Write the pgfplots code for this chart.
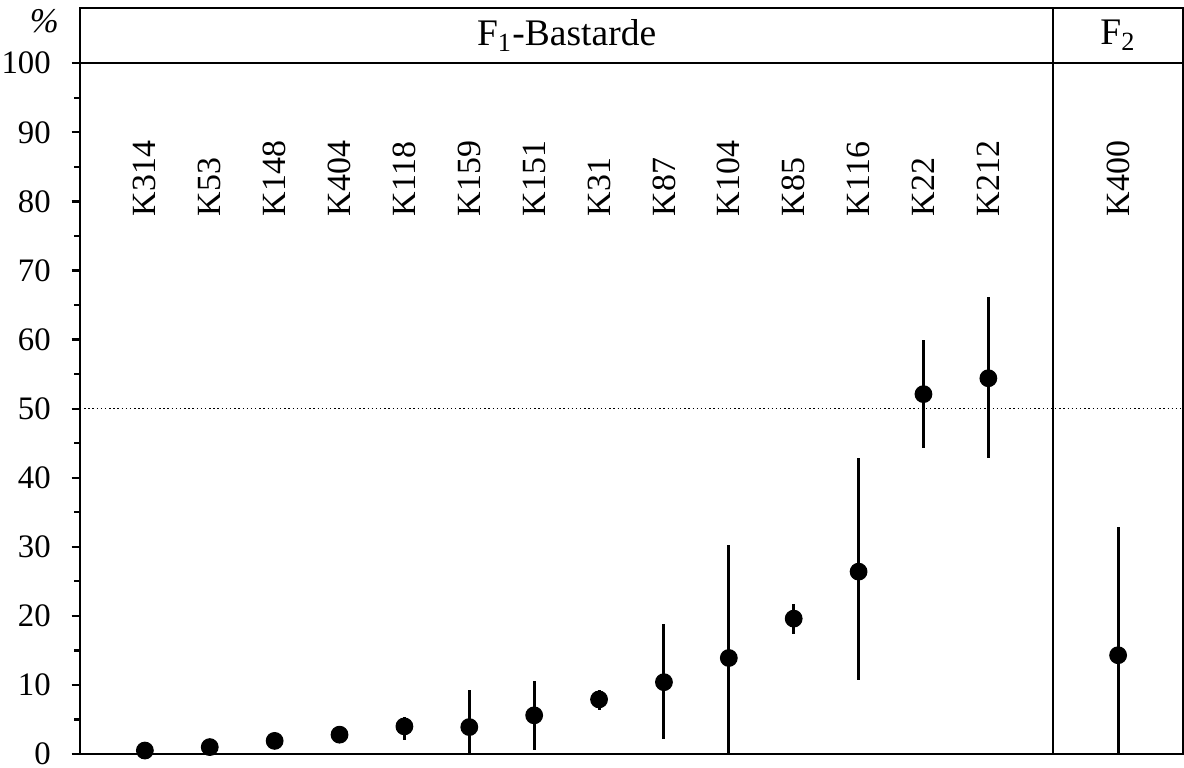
\documentclass[border=0pt]{standalone}
\usepackage{fontspec}
\setmainfont{Liberation Serif}
\usepackage{pgfplots}
\usepackage{pgfplotstable}
\pgfplotsset{compat=1.18}
\pgfplotstableread{
x y ep em
1 0.5 0 0
2 1.0 0 0
3 1.9 0 0
4 2.8 0.7 0.5
5 4.0 1.4 2.0
6 3.9 5.4 3.9
7 5.6 5.0 5.0
8 7.9 1.4 1.6
9 10.4 8.4 8.3
10 13.9 16.4 13.9
11 19.6 2.1 2.2
12 26.4 16.4 15.7
13 52.1 7.8 7.8
14 54.4 11.7 11.6
16 14.3 18.6 14.3
}\datatable
\tikzset{klab/.style={rotate=90, anchor=west, inner sep=0pt, font=\fontsize{12.2}{14}\selectfont}}
\begin{document}
\begin{tikzpicture}
\useasboundingbox (-28.8pt,-5pt) rectangle (397.44pt,271.44pt);
\begin{axis}[name=ax, at={(0,0)}, anchor=south west,
  scale only axis, width=397.08pt, height=268.56pt,
  xmin=0, xmax=17, ymin=0, ymax=108,
  xtick=\empty,
  ytick={0,10,...,100},
  minor ytick={5,15,...,95},
  ytick pos=left, tick align=outside,
  major tick length=3pt, minor tick length=2pt,
  tick style={line width=0.8pt, black},
  axis line style={line width=0.8pt},
  /pgf/number format/assume math mode=true,
  yticklabel style={xshift=-4pt, font=\fontsize{11.8}{14}\selectfont},
  clip=false,
]
\draw[line width=0.8pt] (axis cs:0,100) -- (axis cs:17,100);
\draw[line width=0.8pt] (axis cs:15,0) -- (axis cs:15,108);
\draw[densely dotted, line width=0.5pt] (axis cs:0,50) -- (axis cs:17,50);
\node[font=\fontsize{13.5}{15}\selectfont] at (axis cs:7.5,104) {F\textsubscript{1}-Bastarde};
\node[font=\fontsize{13.5}{15}\selectfont] at (axis cs:16,104) {F\textsubscript{2}};
\node[font=\fontsize{12.5}{14}\selectfont] at (axis cs:-0.55,106.1) {\textit{\%}};
\node[klab] at (axis cs:1,77.8) {K314};
\node[klab] at (axis cs:2,77.8) {K53};
\node[klab] at (axis cs:3,77.8) {K148};
\node[klab] at (axis cs:4,77.8) {K404};
\node[klab] at (axis cs:5,77.8) {K118};
\node[klab] at (axis cs:6,77.8) {K159};
\node[klab] at (axis cs:7,77.8) {K151};
\node[klab] at (axis cs:8,77.8) {K31};
\node[klab] at (axis cs:9,77.8) {K87};
\node[klab] at (axis cs:10,77.8) {K104};
\node[klab] at (axis cs:11,77.8) {K85};
\node[klab] at (axis cs:12,77.8) {K116};
\node[klab] at (axis cs:13,77.8) {K22};
\node[klab] at (axis cs:14,77.8) {K212};
\node[klab] at (axis cs:16,77.8) {K400};
\addplot[only marks, mark=*, mark size=3pt, black,
  error bars/.cd, y dir=both, y explicit,
  error mark=none, error bar style={line width=1.1pt, black}]
  table[x=x, y=y, y error plus=ep, y error minus=em] {\datatable};
\end{axis}
\end{tikzpicture}
\end{document}
